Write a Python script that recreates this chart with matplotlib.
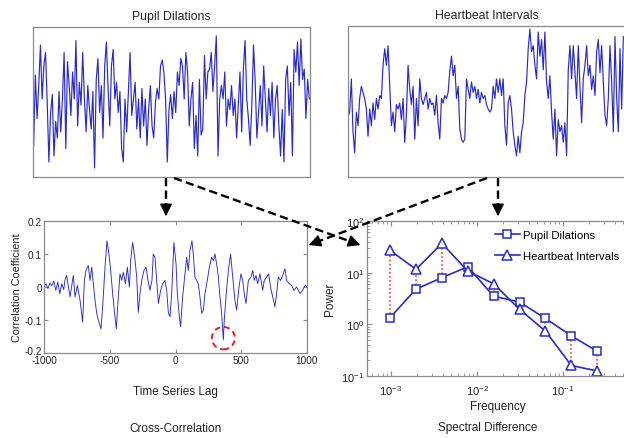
import numpy as np
import matplotlib
matplotlib.use("Agg")
import matplotlib.pyplot as plt
from matplotlib.lines import Line2D
from matplotlib.patches import Ellipse, FancyArrowPatch
from matplotlib.transforms import ScaledTranslation

plt.rcParams['font.family'] = ['Liberation Sans', 'DejaVu Sans']
plt.rcParams['mathtext.fontset'] = 'custom'
plt.rcParams['mathtext.rm'] = 'Liberation Sans'
plt.rcParams['axes.unicode_minus'] = False

BLUE = '#2a2ac8'
GREY = '#8a8a8a'

# ---- top panels: raw series (percent of panel height, evenly spaced samples)
pupil = [21, 68, 39, 61, 88, 52, 74, 83, 50, 10, 43, 55, 14, 37, 26, 57, 30, 52, 83, 19,
         77, 61, 41, 70, 52, 91, 34, 63, 48, 83, 52, 30, 61, 45, 32, 57, 6, 65, 79, 43,
         61, 26, 74, 90, 59, 34, 74, 85, 52, 63, 43, 57, 19, 10, 52, 30, 57, 83, 41, 52,
         63, 32, 52, 26, 59, 34, 52, 21, 45, 61, 34, 26, 50, 59, 52, 74, 78, 70, 52, 10,
         45, 55, 39, 57, 43, 70, 61, 79, 74, 52, 83, 70, 34, 52, 63, 19, 41, 14, 65, 28,
         32, 81, 52, 70, 72, 83, 57, 74, 94, 14, 52, 61, 52, 70, 34, 52, 45, 61, 41, 52,
         26, 48, 70, 30, 72, 91, 52, 39, 21, 48, 88, 63, 26, 43, 61, 34, 74, 52, 30, 59,
         41, 63, 26, 52, 61, 34, 14, 45, 10, 65, 74, 41, 63, 14, 85, 70, 90, 61, 92, 65,
         72, 39, 65, 52]

heart = [40, 43, 65, 30, 16, 43, 34, 52, 60, 56, 52, 45, 27, 45, 34, 49, 38, 52, 45, 54,
         52, 74, 85, 74, 87, 60, 34, 43, 30, 48, 45, 49, 38, 52, 23, 41, 74, 58, 48, 60,
         25, 52, 34, 65, 52, 48, 52, 56, 45, 52, 48, 49, 41, 54, 36, 25, 52, 49, 54, 52,
         56, 70, 80, 67, 74, 52, 60, 32, 25, 23, 25, 65, 58, 52, 63, 56, 60, 52, 58, 49,
         56, 52, 54, 48, 45, 43, 45, 60, 52, 65, 56, 65, 54, 65, 34, 21, 49, 54, 45, 30,
         21, 14, 27, 16, 30, 36, 54, 63, 85, 98, 83, 87, 74, 65, 96, 80, 91, 71, 96, 63,
         52, 67, 43, 25, 45, 14, 38, 30, 34, 23, 36, 14, 71, 87, 65, 87, 69, 52, 87, 60,
         36, 65, 74, 87, 67, 74, 58, 67, 54, 83, 91, 69, 87, 63, 41, 34, 52, 87, 63, 30,
         93, 52, 30, 85, 45, 93]

# ---- cross-correlation (lag, coefficient)
xc_lag = [-1000, -985, -970, -955, -940, -925, -910, -895, -880, -865, -850, -840,
          -828, -802, -777, -764, -746, -726, -706, -693, -681, -663, -650, -637, -625,
          -612, -599, -587, -567, -554, -536, -521, -506, -493, -478, -463, -450, -435,
          -422, -409, -397, -381, -366, -351, -341, -326, -310, -295, -283, -270, -257,
          -240, -224, -209, -194, -179, -169, -156, -143, -130, -113, -98, -80, -67,
          -54, -42, -29, -12, 4, 14, 29, 39, 54, 72, 85, 97, 110, 125, 135, 148, 161,
          173, 186, 199, 212, 224, 242, 257, 275, 288, 300, 313, 326, 338, 351, 364,
          371, 384, 402, 419, 435, 452, 465, 483, 498, 511, 523, 536, 554, 574, 587,
          599, 612, 625, 642, 663, 675, 693, 708, 723, 739, 756, 769, 782, 800, 820,
          832, 845, 865, 883, 901, 921, 947, 967, 985, 1000]
xc_val = [0.0, 0.01, -0.005, 0.012, 0.004, 0.018, -0.01, 0.015, -0.02, 0.01, -0.008, 0.022,
          0.035, -0.03, 0.035, -0.03, 0.005, -0.04, -0.107, 0.02, 0.05, 0.065, 0.02, 0.06,
          0.01, -0.04, -0.08, -0.10, -0.127, -0.06, 0.06, 0.14, 0.10, 0.05, -0.02, -0.08,
          -0.127, -0.03, 0.04, 0.02, 0.045, 0.01, 0.06, 0.0, 0.08, 0.135, 0.09, 0.03,
          -0.077, -0.02, 0.02, 0.05, 0.06, 0.02, -0.01, 0.02, 0.10, 0.09, 0.02, -0.05,
          -0.01, 0.01, 0.02, -0.01, -0.08, -0.09, -0.02, 0.135, 0.07, -0.02, -0.09, -0.12,
          -0.03, 0.04, 0.09, 0.05, 0.11, 0.14, 0.10, 0.03, 0.02, 0.01, -0.03, -0.08,
          -0.07, -0.02, 0.02, 0.06, 0.09, 0.08, 0.10, 0.07, 0.03, -0.03, -0.08, -0.16,
          -0.10, -0.03, 0.05, 0.10, 0.03, -0.04, -0.07, 0.0, 0.04, 0.02, -0.02, -0.05,
          0.02, 0.03, 0.05, 0.02, 0.035, 0.01, 0.04, -0.01, 0.02, 0.03, 0.04, 0.0, -0.03,
          -0.06, -0.02, 0.03, 0.02, 0.04, 0.055, 0.02, 0.01, 0.005, -0.01, 0.0, -0.02,
          -0.01, 0.005, 0.0]

# ---- spectral difference
freq = [2.0**-10, 2.0**-9, 2.0**-8, 2.0**-7, 2.0**-6, 2.0**-5, 2.0**-4, 2.0**-3, 2.0**-2]
pow_pupil = [1.35, 4.8, 8.0, 13.0, 3.5, 2.7, 1.3, 0.6, 0.30]
pow_heart = [27.0, 11.6, 37.0, 10.7, 6.1, 1.95, 0.74, 0.16, 0.125]

W, H = 624, 439
fig = plt.figure(figsize=(W / 100, H / 100), dpi=100)


def box(l, t, r, b):
    return [l / W, 1 - b / H, (r - l) / W, (b - t) / H]


def style(ax):
    for s in ax.spines.values():
        s.set_color(GREY)
        s.set_linewidth(0.9)
    ax.tick_params(which='both', direction='in', top=True, right=True,
                   color=GREY, labelsize=7.2, labelcolor='#222222')


# top panels
ax1 = fig.add_axes(box(33, 28, 310, 178))
ax1.plot(np.arange(len(pupil)), pupil, color=BLUE, lw=0.85)
ax1.set_xlim(-0.4, len(pupil) - 0.6)
ax1.set_ylim(0, 100)
ax1.set_title('Pupil Dilations', fontsize=8.8, pad=6, color='#222222')

ax2 = fig.add_axes(box(348, 27, 626, 178))
ax2.plot(np.arange(len(heart)), heart, color=BLUE, lw=0.85)
ax2.set_xlim(0, len(heart) + 0.6)
ax2.set_ylim(0, 100)
ax2.set_title('Heartbeat Intervals', fontsize=8.8, pad=6, color='#222222')

for ax in (ax1, ax2):
    ax.set_xticks([])
    ax.set_yticks([])
    for s in ax.spines.values():
        s.set_color(GREY)
        s.set_linewidth(0.9)

# cross-correlation
ax3 = fig.add_axes(box(44, 222, 307, 354))
style(ax3)
ax3.plot(xc_lag, xc_val, color=BLUE, lw=0.65)
ax3.set_xlim(-1000, 1000)
ax3.set_ylim(-0.2, 0.2)
ax3.set_xticks([-1000, -500, 0, 500, 1000])
ax3.set_yticks([-0.2, -0.1, 0, 0.1, 0.2])
ax3.set_yticklabels(['-0.2', '-0.1', '0', '0.1', '0.2'])
ax3.tick_params(length=3, pad=1.5)
# nudge the bottom y label up a little so it does not sit on "-1000"
ax3.get_yticklabels()[0].set_transform(
    ax3.get_yticklabels()[0].get_transform() + ScaledTranslation(0, 3 / 100, fig.dpi_scale_trans))
ax3.set_xlabel('Time Series Lag', fontsize=8.5, labelpad=14, color='#222222')
ax3.set_ylabel('Correlation Coefficient', fontsize=7.8, labelpad=2, color='#222222')
i_min = int(np.argmin(xc_val))
ax3.add_patch(Ellipse((xc_lag[i_min], xc_val[i_min] + 0.005), 175, 0.068, fill=False,
                      ec='#dd2222', lw=1.4, ls=(0, (3, 2))))

# spectral difference
ax4 = fig.add_axes(box(367, 222, 628, 377))
style(ax4)
ax4.set_xscale('log')
ax4.set_yscale('log')
ax4.vlines(freq, pow_pupil, pow_heart, colors='#ee2222', linestyles=':', lw=1.1)
ax4.plot(freq, pow_pupil, '-s', color=BLUE, lw=1.2, ms=5.5, mfc='white', mew=1.1,
         label='Pupil Dilations')
ax4.plot(freq, pow_heart, '-^', color=BLUE, lw=1.2, ms=6.5, mfc='white', mew=1.1,
         label='Heartbeat Intervals')
ax4.set_xlim(5.26e-4, 0.57)
ax4.set_ylim(0.1, 100)
ax4.tick_params(which='both', right=False)
ax4.tick_params(which='major', length=3.5, labelsize=8)
ax4.tick_params(axis='x', which='major', pad=5)
ax4.tick_params(axis='y', which='major', pad=2)
ax4.tick_params(which='minor', length=2)
ax4.set_xlabel('Frequency', fontsize=8.5, labelpad=2, color='#222222')
ax4.set_ylabel('Power', fontsize=8.5, labelpad=4, color='#222222')
ax4.legend(loc='upper left', bbox_to_anchor=(0.455, 1.0), frameon=False, fontsize=8.2,
           handlelength=2.2, handletextpad=0.3, labelspacing=0.95, borderaxespad=0.4)

# captions
fig.text(175 / W, 1 - 429 / H, 'Cross-Correlation', ha='center', va='center',
         fontsize=8.5, color='#222222')
fig.text(488 / W, 1 - 428 / H, 'Spectral Difference', ha='center', va='center',
         fontsize=8.5, color='#222222')


# dashed arrows linking panels (pixel coords, y down)
def arrow(x0, y0, x1, y1):
    p0 = np.array([x0 / W, 1 - y0 / H])
    p1 = np.array([x1 / W, 1 - y1 / H])
    d = np.array([x1 - x0, y0 - y1], float)
    d /= np.hypot(*d)
    back = np.array([x1 - 9 * d[0], (H - y1) - 9 * d[1]])
    pb = np.array([back[0] / W, back[1] / H])
    fig.add_artist(Line2D([p0[0], pb[0]], [p0[1], pb[1]], transform=fig.transFigure,
                          color='k', lw=1.7, dashes=(3.5, 1.8)))
    fig.add_artist(FancyArrowPatch(tuple(pb), tuple(p1), transform=fig.transFigure,
                                   arrowstyle='-|>,head_length=0.6,head_width=0.3',
                                   mutation_scale=12, color='k', lw=1.2))


arrow(166, 179, 166, 220)
arrow(174, 179, 363, 247)
arrow(498, 179, 498, 220)
arrow(487, 179, 306, 247)

fig.savefig('out.png', dpi=100)
